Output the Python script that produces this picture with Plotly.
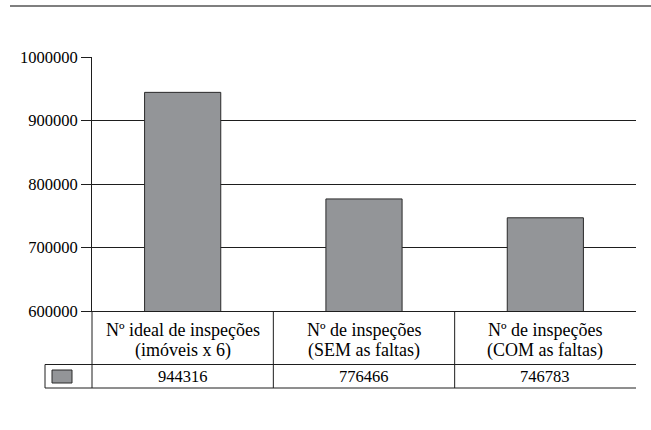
import plotly.graph_objects as go

categories = ["Nº ideal de inspeções<br>(imóveis x 6)",
              "Nº de inspeções<br>(SEM as faltas)",
              "Nº de inspeções<br>(COM as faltas)"]
values = [944316, 776466, 746783]
y_ticks = [600000, 700000, 800000, 900000, 1000000]

W, H = 651, 430
# target plot area in screenshot pixels: x 92..636, y 57..311
PL, PR, PT, PB = 92, 636, 57, 311
L, T, R, B = PL, PT, W - PR, H - PB
pw, ph = PR - PL, PB - PT

def px(x):
    return (x - PL) / pw

def py(y):
    return (PB - y) / ph

BAR = "#939598"
FONT = "Liberation Serif, Tinos, DejaVu Serif, Times New Roman, serif"
LINE = "#1e1e1e"

fig = go.Figure()
fig.add_trace(go.Bar(
    x=list(range(len(categories))), y=values,
    marker=dict(color=BAR, line=dict(color="#2a2a2a", width=1)),
    width=0.42, showlegend=False, hoverinfo="skip",
))

shapes = []
# top rule
shapes.append(dict(type="line", xref="paper", yref="paper",
                   x0=px(10), x1=px(660), y0=py(6), y1=py(6),
                   line=dict(color="#555555", width=1.5)))
# table horizontal lines
for yy in (364.5, 388):
    shapes.append(dict(type="line", xref="paper", yref="paper",
                       x0=px(45), x1=1, y0=py(yy), y1=py(yy),
                       line=dict(color=LINE, width=1)))
# legend cell left border
shapes.append(dict(type="line", xref="paper", yref="paper",
                   x0=px(45), x1=px(45), y0=py(364.5), y1=py(388),
                   line=dict(color=LINE, width=1)))
# column dividers
for k in range(len(categories)):
    xx = k / len(categories)
    shapes.append(dict(type="line", xref="paper", yref="paper",
                       x0=xx, x1=xx, y0=0, y1=py(388),
                       line=dict(color=LINE, width=1)))
# legend key
shapes.append(dict(type="rect", xref="paper", yref="paper",
                   x0=px(52), x1=px(72), y0=py(370), y1=py(383),
                   fillcolor=BAR, line=dict(color="#2a2a2a", width=1)))

annotations = []
for i, (c, v) in enumerate(zip(categories, values)):
    for j, part in enumerate(c.split("<br>")):
        annotations.append(dict(x=i, xref="x", y=py(330 + 20.5 * j), yref="paper",
                                text=part, showarrow=False,
                                font=dict(family=FONT, size=18, color="black"),
                                xanchor="center", yanchor="middle"))
    annotations.append(dict(x=i, xref="x", y=py(376.5), yref="paper",
                            text=str(v), showarrow=False,
                            font=dict(family=FONT, size=16.5, color="black"),
                            xanchor="center", yanchor="middle"))

fig.update_layout(
    width=W, height=H,
    margin=dict(l=L, r=R, t=T, b=B),
    paper_bgcolor="white", plot_bgcolor="white",
    font=dict(family=FONT, size=16.5, color="black"),
    shapes=shapes, annotations=annotations,
    xaxis=dict(range=[-0.5, len(categories) - 0.5], showticklabels=False,
               showgrid=False, zeroline=False, ticks="",
               showline=True, linecolor=LINE, linewidth=1),
    yaxis=dict(range=[600000, 1000000], tickvals=y_ticks,
               ticktext=[str(t) for t in y_ticks],
               showgrid=True, gridcolor=LINE, gridwidth=1,
               zeroline=False, ticks="outside", ticklen=10,
               tickcolor=LINE, showline=True, linecolor=LINE,
               linewidth=1, tickfont=dict(family=FONT, size=16.5, color="black")),
    bargap=0.58,
)

fig.write_html("out.html",
               config={"displayModeBar": False},
               post_script="document.body.style.margin='0px';")
